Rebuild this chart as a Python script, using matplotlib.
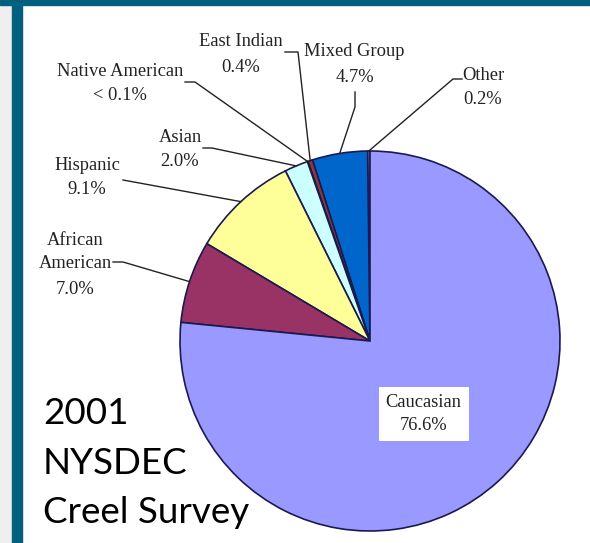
import numpy as np
import matplotlib.pyplot as plt
from matplotlib.patches import Rectangle

# data, counter-clockwise from 12 o'clock
groups = ["Other", "Mixed Group", "East Indian", "Native American", "Asian",
          "Hispanic", "African\nAmerican", "Caucasian"]
shares = [0.2, 4.7, 0.4, 0.05, 2.0, 9.1, 7.0, 76.6]
share_text = ["0.2%", "4.7%", "0.4%", "< 0.1%", "2.0%", "9.1%", "7.0%", "76.6%"]
colors = ["#CCCCFF", "#0066CC", "#8B3A3A", "#663366", "#CCFFFF",
          "#FFFF99", "#993366", "#9999FF"]
title_lines = ["2001", "NYSDEC", "Creel Survey"]

W, H = 590, 543
def P(x, y):
    # pixel position (y from top) -> data coords
    return (x, H - y)

fig = plt.figure(figsize=(5.9, 5.43), dpi=100)
ax = fig.add_axes([0, 0, 1, 1])

# slide frame
ax.add_patch(Rectangle((0, 0), 12, H, color="#EFEFEF", zorder=0))
ax.add_patch(Rectangle((12, 0), 10, H, color="#00607E", zorder=0))
ax.add_patch(Rectangle((0, H - 5), W, 5, color="#00607E", zorder=0))

cx, cy = P(370, 341)
R = 190
wedges, _ = ax.pie(shares, colors=colors, startangle=90, counterclock=True,
                   center=(cx, cy), radius=R, frame=True,
                   wedgeprops=dict(edgecolor="#1A1A50", linewidth=1.2))
ax.set_xlim(0, W)
ax.set_ylim(0, H)
ax.set_aspect('equal')
ax.axis('off')

serif = dict(family=["Liberation Serif", "DejaVu Serif"], fontsize=13.3,
             color="#222222", ha="center", va="center")

# label positions: name line(s), pct line, leader start, elbow
lab = {
    0: ((483, 76), (483, 100), (462, 79), (453, 79)),
    1: ((354, 52), (355, 78), (355, 92), (355, 107)),
    2: ((241, 42), (241, 67), (285, 52), (298, 52)),
    3: ((120, 71), (120, 96), (185, 82), (195, 82)),
    4: ((180, 138), (180, 162), (203, 148), (212, 148)),
    5: ((87, 165), (87, 189), (123, 180), None),
    6: ((75, 252), (75, 290), (113, 262), (123, 262)),
}

for i, (tpos, ppos, start, elbow) in lab.items():
    w = wedges[i]
    mid = np.deg2rad((w.theta1 + w.theta2) / 2)
    ex, ey = cx + R * np.cos(mid), cy + R * np.sin(mid)
    pts = [P(*start)]
    if elbow is not None:
        pts.append(P(*elbow))
    pts.append((ex, ey))
    xs, ys = zip(*pts)
    ax.plot(xs, ys, color="#222222", lw=1.0, zorder=3)
    ax.text(*P(*tpos), groups[i], linespacing=1.45, **serif)
    ax.text(*P(*ppos), share_text[i], **serif)

# Caucasian label inside the slice
w = wedges[7]
mid = np.deg2rad((w.theta1 + w.theta2) / 2)
ax.text(cx + 0.42 * R * np.cos(mid), cy + 0.42 * R * np.sin(mid) - 14,
        groups[7] + "\n" + share_text[7], linespacing=1.45, zorder=4,
        bbox=dict(facecolor="white", edgecolor="none", pad=5), **serif)

for k, line in enumerate(title_lines):
    ax.text(*P(43, 424 + 49.5 * k), line, family=["Lato", "DejaVu Sans"],
            fontsize=26.5, color="black", ha="left", va="baseline", zorder=5)

fig.savefig("out.png", dpi=100)
